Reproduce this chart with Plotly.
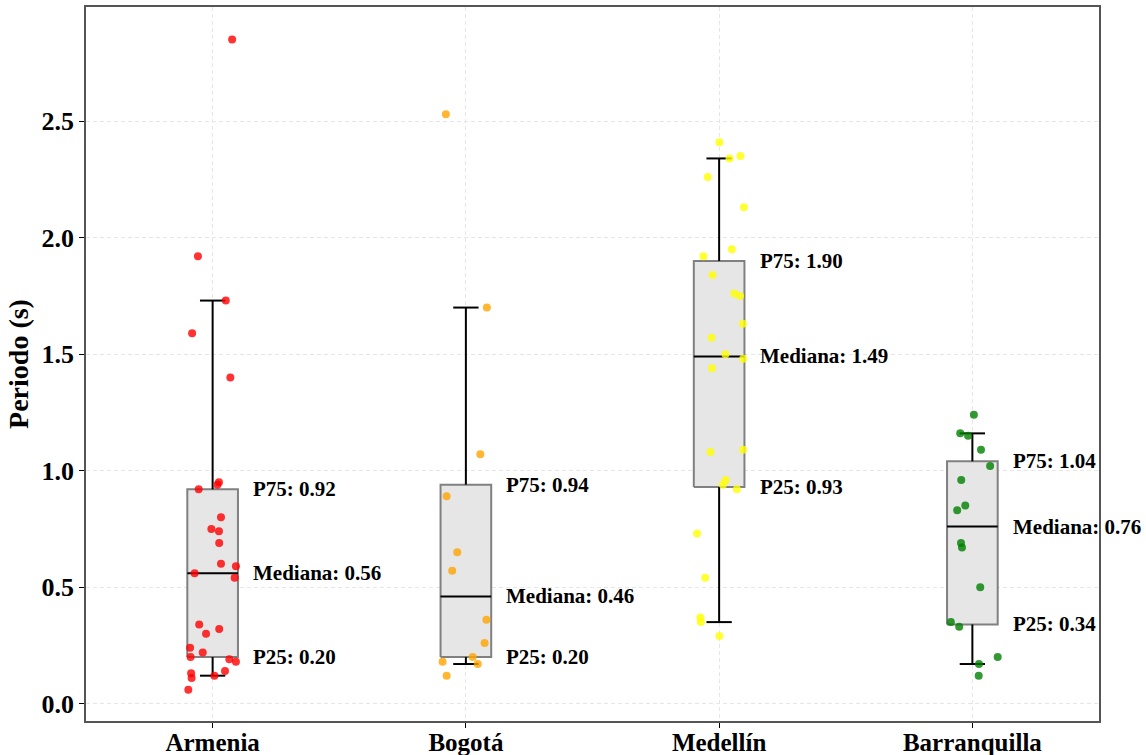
import plotly.graph_objects as go

# Categories and marker colours
cities = ["Armenia", "Bogotá", "Medellín", "Barranquilla"]
colors = ["red", "orange", "yellow", "green"]

# Individual period values (s) and their horizontal jitter (category units)
armenia = [2.85, 1.92, 1.73, 1.59, 1.40, 0.95, 0.94, 0.92, 0.80, 0.75, 0.74, 0.69, 0.60, 0.59,
           0.56, 0.54, 0.34, 0.32, 0.30, 0.24, 0.22, 0.20, 0.19, 0.18, 0.14, 0.13, 0.12, 0.11, 0.06]
armenia_jitter = [0.077, -0.058, 0.052, -0.081, 0.070, 0.025, 0.019, -0.055, 0.033, -0.005, 0.025,
                  0.026, 0.033, 0.092, -0.071, 0.087, -0.053, 0.026, -0.026, -0.089, -0.039, -0.087,
                  0.066, 0.092, 0.049, -0.085, 0.007, -0.083, -0.096]

bogota = [2.53, 1.70, 1.07, 0.89, 0.65, 0.57, 0.36, 0.26, 0.20, 0.18, 0.17, 0.12]
bogota_jitter = [-0.079, 0.083, 0.057, -0.076, -0.034, -0.054, 0.081, 0.074, 0.027, -0.092, 0.047, -0.076]

medellin = [2.41, 2.34, 2.35, 2.26, 2.13, 1.95, 1.92, 1.84, 1.76, 1.75, 1.63, 1.57, 1.50, 1.48,
            1.44, 1.08, 1.09, 0.96, 0.94, 0.92, 0.73, 0.54, 0.37, 0.35, 0.29]
medellin_jitter = [0.001, 0.041, 0.084, -0.045, 0.098, 0.050, -0.062, -0.026, 0.060, 0.083, 0.094,
                   -0.030, 0.025, 0.095, -0.028, -0.034, 0.095, 0.026, 0.015, 0.070, -0.087, -0.055,
                   -0.074, -0.072, 0.001]

barranquilla = [1.24, 1.16, 1.15, 1.09, 1.02, 0.96, 0.85, 0.83, 0.69, 0.67, 0.50, 0.35, 0.33,
                0.20, 0.17, 0.12]
barranquilla_jitter = [0.006, -0.048, -0.017, 0.034, 0.070, -0.044, -0.028, -0.060, -0.045, -0.041,
                       0.031, -0.085, -0.052, 0.100, 0.026, 0.025]

values = [armenia, bogota, medellin, barranquilla]
jitters = [armenia_jitter, bogota_jitter, medellin_jitter, barranquilla_jitter]

# Box statistics per city
p25 = [0.20, 0.20, 0.93, 0.34]
median = [0.56, 0.46, 1.49, 0.76]
p75 = [0.92, 0.94, 1.90, 1.04]
whisker_low = [0.12, 0.17, 0.35, 0.17]
whisker_high = [1.73, 1.70, 2.34, 1.16]

BOX_HALF = 0.10
CAP_HALF = 0.05
LABEL_DX = 0.152
FONT = "Liberation Serif, Times New Roman, serif"

fig = go.Figure()

# Boxes (P25 to P75)
for i in range(len(cities)):
    fig.add_trace(go.Scatter(
        x=[i - BOX_HALF, i + BOX_HALF, i + BOX_HALF, i - BOX_HALF, i - BOX_HALF],
        y=[p25[i], p25[i], p75[i], p75[i], p25[i]],
        mode="lines", fill="toself", fillcolor="#e6e6e6",
        line=dict(color="#808080", width=2), hoverinfo="skip", showlegend=False))

# Whiskers with caps
wx, wy = [], []
for i in range(len(cities)):
    wx += [i, i, None, i, i, None,
           i - CAP_HALF, i + CAP_HALF, None, i - CAP_HALF, i + CAP_HALF, None]
    wy += [p75[i], whisker_high[i], None, p25[i], whisker_low[i], None,
           whisker_high[i], whisker_high[i], None, whisker_low[i], whisker_low[i], None]
fig.add_trace(go.Scatter(x=wx, y=wy, mode="lines", line=dict(color="black", width=2),
                         hoverinfo="skip", showlegend=False))

# Median lines
mx, my = [], []
for i in range(len(cities)):
    mx += [i - BOX_HALF, i + BOX_HALF, None]
    my += [median[i], median[i], None]
fig.add_trace(go.Scatter(x=mx, y=my, mode="lines", line=dict(color="black", width=2),
                         hoverinfo="skip", showlegend=False))

# Jittered points
for i, (vals, jit) in enumerate(zip(values, jitters)):
    fig.add_trace(go.Scatter(
        x=[i + j for j in jit], y=vals, mode="markers", name=cities[i],
        marker=dict(color=colors[i], size=8, opacity=0.8, line=dict(width=0)),
        showlegend=False))

# Statistic labels
for i in range(len(cities)):
    for label, val in (("P75", p75[i]), ("Mediana", median[i]), ("P25", p25[i])):
        fig.add_annotation(
            x=i + LABEL_DX, y=val, text=f"{label}: {val:.2f}", showarrow=False,
            xanchor="left", yanchor="middle",
            font=dict(family=FONT, size=21, color="black", weight="bold"))

axis_common = dict(
    showline=True, mirror=True, linecolor="#555555", linewidth=1.5,
    ticks="outside", ticklen=5, tickwidth=1.2, tickcolor="black",
    showgrid=True, gridcolor="#e6e6e6", gridwidth=1, griddash="4px,3px",
    zeroline=False, automargin=False,
)

fig.update_xaxes(range=[-0.5, 3.5], tickvals=list(range(len(cities))), ticktext=cities,
                 ticklabelstandoff=-7,
                 tickfont=dict(family=FONT, size=25, color="black", weight="bold"),
                 **axis_common)
fig.update_yaxes(range=[-0.0745, 2.99], tickvals=[0.0, 0.5, 1.0, 1.5, 2.0, 2.5],
                 ticktext=["0.0", "0.5", "1.0", "1.5", "2.0", "2.5"],
                 tickfont=dict(family=FONT, size=26, color="black", weight="bold"),
                 title=dict(text="Periodo (s)", standoff=5,
                            font=dict(family=FONT, size=28, color="black", weight="bold")),
                 **axis_common)

fig.update_layout(
    width=1146, height=755,
    margin=dict(l=86, r=47, t=7, b=34),
    paper_bgcolor="white", plot_bgcolor="white",
)

fig.write_html("out.html")
